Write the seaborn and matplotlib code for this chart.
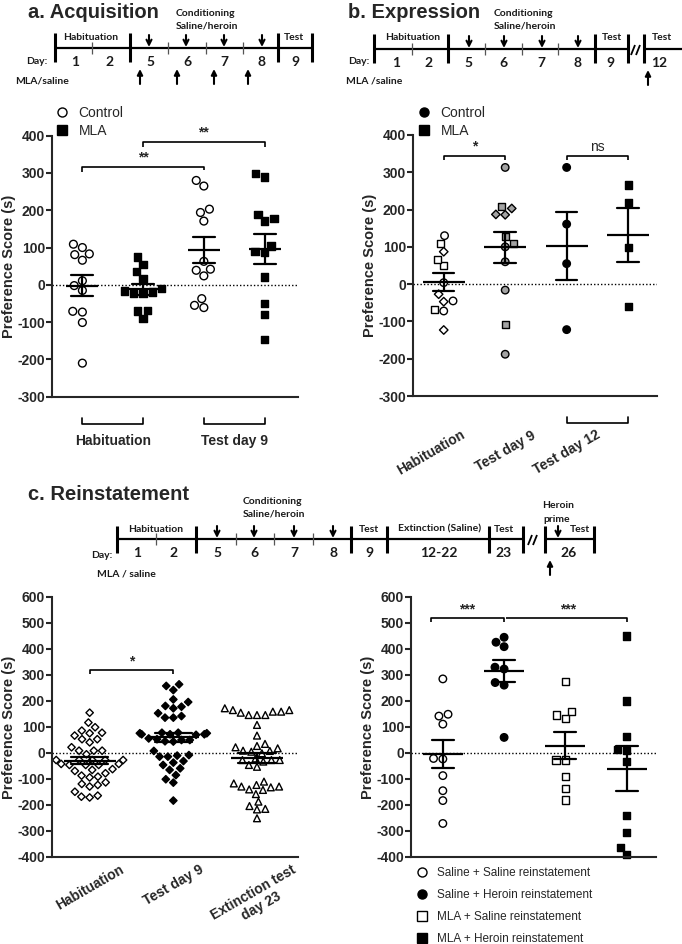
import numpy as np
import pandas as pd
import matplotlib
matplotlib.use("Agg")
import matplotlib.pyplot as plt
import seaborn as sns
from matplotlib.markers import MarkerStyle
from matplotlib.lines import Line2D
from matplotlib.transforms import blended_transform_factory

# ---------------- data: preference score (s) ----------------
# a. Acquisition
a_order = ["Control Hab", "MLA Hab", "Control Test", "MLA Test"]
a_ctrl_hab = [100, 66, 81, 109, 83, -2, 11, -15, -73, -71, -101, -210]
a_mla_hab = [75, 55, 35, 17, -10, -23, -16, -23, -19, -68, -70, -90]
a_ctrl_test = [203, 265, 280, 194, 171, 39, 63, 42, 24, -61, -37, -55]
a_mla_test = [289, 298, 171, 178, 189, 104, 86, 90, 21, -50, -79, -146]
a_xlabels = ["Habituation", "Test day 9"]

# b. Expression
b_order = ["Hab", "Test9", "T12 Control", "T12 MLA"]
b_hab_circle = [130, 4, -45, -72]
b_hab_square = [109, 49, 66, -67]
b_hab_diamond = [87, -27, -47, -123]
b_t9_circle = [313, 100, 60, -16, -188]
b_t9_square = [208, 127, 109, -108]
b_t9_diamond = [186, 187, 203]
b_t12_ctrl = [313, 161, 55, -122]
b_t12_mla = [266, 219, 98, -59]
b_xlabels = ["Habituation", "Test day 9", "Test day 12"]

# c. Reinstatement
c_order = ["Habituation", "Test day 9", "Extinction test\nday 23"]
c_hab = [155, 99, 117, 76, 86, 78, 67, 53, 53, 41, 9, -5, 22, 9, 9,
         -27, -27, -27, -27, -27, -62, -46, -42, -46, -42, -65, -46, -78,
         -87, -69, -94, -91, -123, -129, -119, -113, -168, -164, -149, -171]
c_test9 = [258, 264, 242, 181, 206, 196, 172, 178, 153, 136, 136, 142,
           72, 72, 76, 76, 72, 78, 78, 70, 50, 50, 56, 53, 44, 45,
           -8, 8, -14, -14, -10, -31, -37, -46, -59, -65, -85, -101, -114, -183]
c_ext = [155, 165, 146, 172, 146, 165, 146, 159, 159, 108, 67,
         27, 22, 18, 35, 9, 5, -1, 8, -27, -21, -27, -27, -46, -53, -33,
         -123, -129, -110, -129, -140, -117, -132, -142, -158,
         -204, -187, -217, -215, -251]

r_order = ["Saline + Saline reinstatement", "Saline + Heroin reinstatement",
           "MLA + Saline reinstatement", "MLA + Heroin reinstatement"]
c_sal_sal = [285, 149, 142, 111, -23, -21, -87, -145, -183, -271]
c_sal_her = [426, 445, 409, 330, 323, 271, 261, 60]
c_mla_sal = [274, 159, 133, 146, -27, -27, -91, -138, -181]
c_mla_her = [450, 200, 63, 15, 8, -33, -241, -306, -365, -390]

GRAY = "#a3a3a3"

# ---------------- style ----------------
sns.set_style("ticks")
plt.rcParams["font.family"] = ["Liberation Sans", "DejaVu Sans"]
plt.rcParams["axes.unicode_minus"] = False

W, H = 682, 944
fig = plt.figure(figsize=(W / 100, H / 100), dpi=100)


def add_axes(l, t, r, b):
    return fig.add_axes([l / W, 1 - b / H, (r - l) / W, (b - t) / H])


def frame(groups):
    rows = []
    for cat, vals, mark, face in groups:
        rows += [(cat, float(v), mark, face) for v in vals]
    return pd.DataFrame(rows, columns=["cat", "val", "mark", "face"])


def mpath(m, scale=1.0):
    ms = MarkerStyle(m)
    return ms.get_path().transformed(ms.get_transform().scale(scale))


PATHS = {"o": mpath("o"), "s": mpath("s", 0.95), "D": mpath("D", 0.8), "^": mpath("^", 1.05)}


def swarm(ax, df, order, size):
    n0 = len(ax.collections)
    sns.swarmplot(data=df, x="cat", y="val", order=order, color="white", size=size,
                  linewidth=1, edgecolor="black", ax=ax, zorder=2, clip_on=False)
    lookup = {(order.index(c), round(v, 2)): (m, f)
              for c, v, m, f in df[["cat", "val", "mark", "face"]].itertuples(index=False)}
    for coll in ax.collections[n0:]:
        info = [lookup[(int(round(x)), round(y, 2))] for x, y in coll.get_offsets()]
        coll.set_paths([PATHS[m] for m, f in info])
        coll.set_facecolors([f for m, f in info])


def mean_sem(ax, df, order, width, capsize):
    sns.pointplot(data=df, x="cat", y="val", order=order, errorbar="se", color="black",
                  markers="_", markersize=width, markeredgewidth=1.6, linestyle="none",
                  capsize=capsize, err_kws={"linewidth": 1.6, "zorder": 4}, ax=ax, zorder=4)


def style_axes(ax, ylo, yhi, xlim):
    ax.set_xlim(*xlim)
    ax.set_ylim(ylo, yhi)
    ax.set_yticks(range(ylo, yhi + 1, 100))
    ax.axhline(0, color="black", lw=1, ls=(0, (1, 1.5)), zorder=1)
    sns.despine(ax=ax)
    for s in ("left", "bottom"):
        ax.spines[s].set_linewidth(1.5)
    ax.tick_params(axis="y", length=4, width=1.5, labelsize=10, pad=1)
    for t in ax.get_yticklabels():
        t.set_fontweight("bold")
    ax.set_ylabel("Preference Score (s)", fontsize=10.5, fontweight="bold", labelpad=1)
    ax.set_xlabel("")


def bracket(ax, x0, x1, y, d0, d1, lw=1.2, **kw):
    ax.plot([x0, x0, x1, x1], [y - d0, y, y, y - d1], color="black", lw=lw,
            clip_on=False, solid_capstyle="butt", **kw)


def under_bracket(ax, x0, x1):
    tr = blended_transform_factory(ax.transData, ax.transAxes)
    ax.plot([x0, x0, x1, x1], [-0.082, -0.105, -0.105, -0.082], color="black", lw=1.2,
            transform=tr, clip_on=False)


# ---------------- panel a ----------------
ax_a = add_axes(52, 135.7, 298, 396.7)
df_a = frame([("Control Hab", a_ctrl_hab, "o", "white"), ("MLA Hab", a_mla_hab, "s", "black"),
              ("Control Test", a_ctrl_test, "o", "white"), ("MLA Test", a_mla_test, "s", "black")])
swarm(ax_a, df_a, a_order, 5.6)
mean_sem(ax_a, df_a, a_order, 23, 0.36)
style_axes(ax_a, -300, 400, (-0.5, 3.55))
ax_a.set_xticks([0.5, 2.5], a_xlabels)
ax_a.tick_params(axis="x", length=0, pad=27, labelsize=10)
for t in ax_a.get_xticklabels():
    t.set_fontweight("bold")
under_bracket(ax_a, 0, 1)
under_bracket(ax_a, 2, 3)
bracket(ax_a, 0, 2, 316, 14, 9)
bracket(ax_a, 1, 3, 383, 13, 13)
ax_a.text(1, 322, "**", ha="center", va="bottom", fontsize=10, fontweight="bold")
ax_a.text(2, 389, "**", ha="center", va="bottom", fontsize=10, fontweight="bold")
ax_a.legend(handles=[Line2D([], [], marker="o", ls="none", mfc="white", mec="black", mew=1, ms=6.5),
                     Line2D([], [], marker="s", ls="none", mfc="black", mec="black", mew=1, ms=6.5)],
            labels=["Control", "MLA"], loc="upper left", bbox_to_anchor=(55 / W, 1 - 106 / H),
            bbox_transform=fig.transFigure, frameon=False, fontsize=10, handlelength=1,
            handletextpad=0.7, labelspacing=0.3, borderpad=0, borderaxespad=0)

# ---------------- panel b ----------------
ax_b = add_axes(413, 135, 657, 396)
df_b = frame([("Hab", b_hab_circle, "o", "white"), ("Hab", b_hab_square, "s", "white"),
              ("Hab", b_hab_diamond, "D", "white"),
              ("Test9", b_t9_circle, "o", GRAY), ("Test9", b_t9_square, "s", GRAY),
              ("Test9", b_t9_diamond, "D", GRAY),
              ("T12 Control", b_t12_ctrl, "o", "black"), ("T12 MLA", b_t12_mla, "s", "black")])
swarm(ax_b, df_b, b_order, 5.4)
mean_sem(ax_b, df_b, b_order, 30, 0.35)
style_axes(ax_b, -300, 400, (-0.5, 3.47))
ax_b.set_xticks([-0.2, 1.0, 2.0], b_xlabels, rotation=30, ha="center")
ax_b.tick_params(axis="x", length=0, pad=23, labelsize=10)
for t in ax_b.get_xticklabels():
    t.set_fontweight("bold")
under_bracket(ax_b, 2, 3)
bracket(ax_b, 0, 1, 344, 11, 11)
bracket(ax_b, 2, 3, 344, 11, 11)
ax_b.text(0.5, 350, "*", ha="center", va="bottom", fontsize=10, fontweight="bold")
ax_b.text(2.5, 350, "ns", ha="center", va="bottom", fontsize=10)
ax_b.legend(handles=[Line2D([], [], marker="o", ls="none", mfc="black", mec="black", mew=1, ms=6.5),
                     Line2D([], [], marker="s", ls="none", mfc="black", mec="black", mew=1, ms=6.5)],
            labels=["Control", "MLA"], loc="upper left", bbox_to_anchor=(417 / W, 1 - 106 / H),
            bbox_transform=fig.transFigure, frameon=False, fontsize=10, handlelength=1,
            handletextpad=0.7, labelspacing=0.3, borderpad=0, borderaxespad=0)

# ---------------- panel c left ----------------
ax_c = add_axes(52, 597, 298, 857)
df_c = frame([(c_order[0], c_hab, "D", "white"), (c_order[1], c_test9, "D", "black"),
              (c_order[2], c_ext, "^", "white")])
swarm(ax_c, df_c, c_order, 4.7)
mean_sem(ax_c, df_c, c_order, 38, 0.45)
style_axes(ax_c, -400, 600, (-0.45, 2.49))
ax_c.set_xticks([0, 1, 2], c_order, rotation=30, ha="center", multialignment="center")
ax_c.tick_params(axis="x", length=0, pad=4, labelsize=10)
for t in ax_c.get_xticklabels():
    t.set_fontweight("bold")
bracket(ax_c, 0, 1, 319, 14, 14)
ax_c.text(0.5, 325, "*", ha="center", va="bottom", fontsize=10, fontweight="bold")

# ---------------- panel c right ----------------
ax_r = add_axes(411, 597, 656, 857)
df_r = frame([(r_order[0], c_sal_sal, "o", "white"), (r_order[1], c_sal_her, "o", "black"),
              (r_order[2], c_mla_sal, "s", "white"), (r_order[3], c_mla_her, "s", "black")])
swarm(ax_r, df_r, r_order, 5.4)
mean_sem(ax_r, df_r, r_order, 29, 0.36)
style_axes(ax_r, -400, 600, (-0.52, 3.48))
ax_r.set_xticks([])
bracket(ax_r, -0.19, 1.0, 519, 14, 14)
bracket(ax_r, 1.03, 3.0, 519, 0, 14)
ax_r.text(0.39, 527, "***", ha="center", va="bottom", fontsize=10, fontweight="bold")
ax_r.text(2.05, 527, "***", ha="center", va="bottom", fontsize=10, fontweight="bold")
ax_r.legend(handles=[Line2D([], [], marker=m, ls="none", mfc=f, mec="black", mew=1, ms=6.5)
                     for m, f in [("o", "white"), ("o", "black"), ("s", "white"), ("s", "black")]],
            labels=r_order, loc="upper left", bbox_to_anchor=(416 / W, 1 - 867 / H),
            bbox_transform=fig.transFigure, frameon=False, fontsize=8.5, handlelength=1,
            handletextpad=0.8, labelspacing=0.85, borderpad=0, borderaxespad=0)

# ---------------- protocol timelines (figure pixel space) ----------------
ov = fig.add_axes([0, 0, 1, 1], zorder=-1)
ov.set_xlim(0, W)
ov.set_ylim(H, 0)
ov.axis("off")
TL = dict(family=["Lato", "DejaVu Sans"], fontweight="bold", color="#1a1a1a")


def seg(x0, y0, x1, y1, lw=1.6, color="black"):
    ov.plot([x0, x1], [y0, y1], color=color, lw=lw, solid_capstyle="butt")


def arrow(x, y_from, y_to, style="->", ms=9):
    ov.annotate("", xy=(x, y_to), xytext=(x, y_from),
                arrowprops=dict(arrowstyle=style, lw=1.5, color="black", shrinkA=0, shrinkB=0,
                                mutation_scale=ms))


def timeline(y, x0, x1, majors, minors, nums, dn, up, tick=(15, 14), extra=None):
    seg(x0, y, x1, y)
    if extra:
        seg(extra[0], y, extra[1], y)
    for x in majors:
        seg(x, y - tick[0], x, y + tick[1], lw=2.2)
    for x in minors:
        seg(x, y - 6, x, y + 6, lw=0.9, color="#555555")
    for x, s in nums:
        ov.text(x, y + 14, s, ha="center", va="center", fontsize=10, **TL)
    for x in dn:
        arrow(x, y - 13, y - 1)
    for x in up:
        arrow(x, y + 36, y + 21, "-|>", 8)


def brk(x, y):
    for dx in (-3, 2):
        seg(x + dx - 2, y + 5, x + dx + 2, y - 5, lw=1.3)


# a
ov.text(28, 12, "a. Acquisition", fontsize=14.5, fontweight="bold", va="center", ha="left")
ov.text(176, 13, "Conditioning", fontsize=7.5, va="center", **TL)
ov.text(176, 26, "Saline/heroin", fontsize=7.5, va="center", **TL)
timeline(48, 55, 312, [55, 130, 278, 312], [92, 168, 206, 243],
         [(75, "1"), (110, "2"), (150, "5"), (187, "6"), (224, "7"), (262, "8"), (295, "9")],
         [149, 186, 224, 262], [140, 177, 214, 248])
ov.text(47, 62, "Day:", fontsize=7.5, ha="right", va="center", **TL)
ov.text(91, 37, "Habituation", fontsize=7.5, ha="center", va="center", **TL)
ov.text(294, 37, "Test", fontsize=7.5, ha="center", va="center", **TL)
ov.text(15, 81, "MLA/saline", fontsize=7.5, ha="left", va="center", **TL)

# b
ov.text(348, 12, "b. Expression", fontsize=14.5, fontweight="bold", va="center", ha="left")
ov.text(494, 13, "Conditioning", fontsize=7.5, va="center", **TL)
ov.text(494, 26, "Saline/heroin", fontsize=7.5, va="center", **TL)
timeline(49, 374, 628, [374, 448, 595, 628, 644], [412, 485, 522, 558],
         [(396, "1"), (429, "2"), (468, "5"), (503, "6"), (541, "7"), (578, "8"), (610, "9"),
          (659, "12")],
         [469, 504, 542, 578], [648], extra=(644, 682))
brk(636, 50)
ov.text(369, 62, "Day:", fontsize=7.5, ha="right", va="center", **TL)
ov.text(413, 38, "Habituation", fontsize=7.5, ha="center", va="center", **TL)
ov.text(612, 38, "Test", fontsize=7.5, ha="center", va="center", **TL)
ov.text(662, 38, "Test", fontsize=7.5, ha="center", va="center", **TL)
ov.text(346, 81, "MLA /saline", fontsize=7.5, ha="left", va="center", **TL)

# c
ov.text(28, 495, "c. Reinstatement", fontsize=14.5, fontweight="bold", va="center", ha="left")
ov.text(243, 501, "Conditioning", fontsize=7.5, va="center", **TL)
ov.text(243, 514, "Saline/heroin", fontsize=7.5, va="center", **TL)
timeline(539, 117, 523, [117, 196, 351, 387, 489, 523, 545, 594], [156, 236, 274, 313],
         [(137, "1"), (174, "2"), (217, "5"), (254, "6"), (294, "7"), (333, "8"), (369, "9"),
          (439, "12-22"), (504, "23"), (569, "26")],
         [217, 254, 294, 333, 558], [550], tick=(13, 14), extra=(545, 594))
brk(533, 540)
ov.text(112, 556, "Day:", fontsize=7.5, ha="right", va="center", **TL)
ov.text(156, 529, "Habituation", fontsize=7.5, ha="center", va="center", **TL)
ov.text(369, 529, "Test", fontsize=7.5, ha="center", va="center", **TL)
ov.text(440, 529, "Extinction (Saline)", fontsize=7.5, ha="center", va="center", **TL)
ov.text(504, 529, "Test", fontsize=7.5, ha="center", va="center", **TL)
ov.text(580, 529, "Test", fontsize=7.5, ha="center", va="center", **TL)
ov.text(558, 506, "Heroin", fontsize=7.5, ha="center", va="center", **TL)
ov.text(557, 519, "prime", fontsize=7.5, ha="center", va="center", **TL)
ov.text(97, 574, "MLA / saline", fontsize=7.5, ha="left", va="center", **TL)

fig.savefig("out.png", dpi=100)
